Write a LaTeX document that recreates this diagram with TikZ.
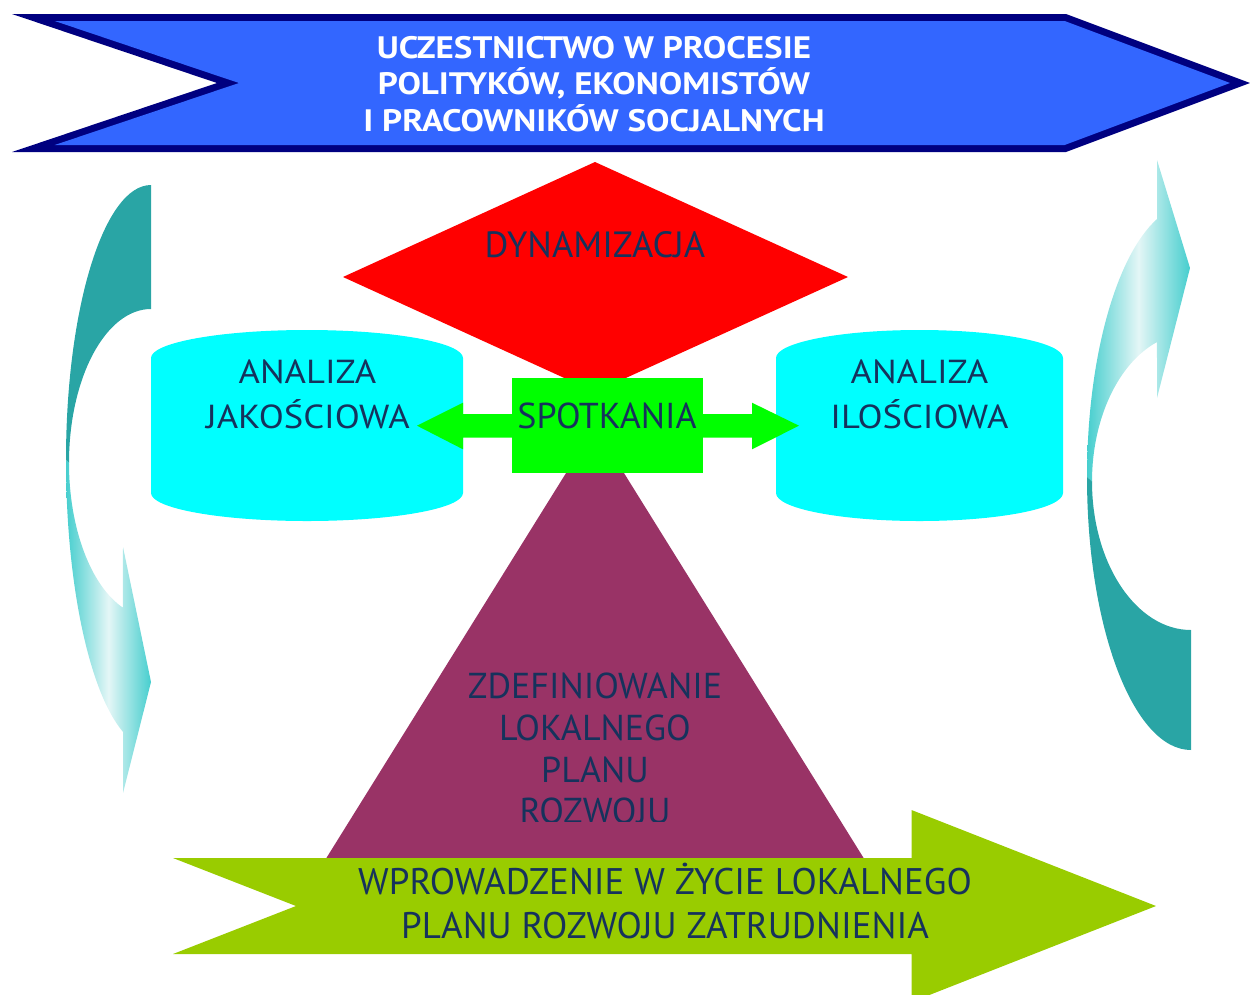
\documentclass[tikz,border=0pt]{standalone}
\usepackage{fontspec}
\setmainfont{PT Sans}
\newfontfamily\wideS[FakeStretch=1.1]{PT Sans}
\newfontfamily\wideB[FakeStretch=1.13]{PT Sans}
\definecolor{navyb}{RGB}{0,0,128}
\definecolor{blueF}{RGB}{51,102,255}
\definecolor{txt}{RGB}{22,50,92}
\definecolor{cyanF}{RGB}{0,255,255}
\definecolor{greenF}{RGB}{0,255,0}
\definecolor{redF}{RGB}{255,0,0}
\definecolor{maroon}{RGB}{153,51,102}
\definecolor{limeF}{RGB}{153,204,0}
\definecolor{tealD}{RGB}{41,165,165}
\definecolor{tealM}{RGB}{70,206,206}
\definecolor{tealL}{RGB}{228,246,246}
\begin{document}
\begin{tikzpicture}[x=1pt,y=-1pt,
  lbl/.style={text=txt,anchor=base,inner sep=0pt,font=\fontsize{#1}{#1}\selectfont},
  cyl/.style={text=txt,anchor=base,inner sep=0pt,font=\wideS\fontsize{33.3}{34}\selectfont},
  toplbl/.style={text=white,anchor=base,inner sep=0pt,font=\wideB\fontsize{31}{31}\selectfont\bfseries},
  darkpart/.style={fill=tealD},
  lightpart/.style={left color=tealM,right color=tealM,middle color=tealL}]
\useasboundingbox (0,0) rectangle (1250,994);
\clip (0,0) rectangle (1250,994);
% top chevron
\fill[navyb] (12,14) -- (1066,14) -- (1250,83) -- (1066,152) -- (12,152) -- (217,83) -- cycle;
\fill[blueF] (54.7,21) -- (1064.7,21) -- (1230,83) -- (1064.7,145) -- (54.7,145) -- (239,83) -- cycle;
\node[toplbl] (t1) at (594,58) {UCZESTNICTWO W PROCESIE};
\node[toplbl] (t2) at (594,94.5) {POLITYKÓW, EKONOMISTÓW};
\node[toplbl] (t3) at (594,131) {I PRACOWNIKÓW SOCJALNYCH};
% left curved arrow
\path[darkpart] (151,185) arc[start angle=-90,end angle=-180,x radius=85,y radius=275]
  -- (69,463) arc[start angle=180,end angle=270,x radius=82,y radius=154] -- cycle;
\path[lightpart] (66,460) arc[start angle=180,end angle=109.2,x radius=85,y radius=288]
  -- (123,793) -- (151,682) -- (123,547) -- (122.95,607.7)
  arc[start angle=110,end angle=180,x radius=82,y radius=154] -- cycle;
% right curved arrow
\path[lightpart] (1157,219) arc[start angle=250.9,end angle=180,x radius=104,y radius=273]
  -- (1092,481.5) arc[start angle=180,end angle=249.9,x radius=99,y radius=148.5]
  -- (1157,398) -- (1190,268) -- (1157,160) -- cycle;
\path[darkpart] (1087,477) arc[start angle=180,end angle=90,x radius=104,y radius=273]
  -- (1191,630) arc[start angle=90,end angle=180,x radius=99,y radius=148.5] -- cycle;
% diamond
\fill[redF] (595,162) -- (848,277) -- (595,392) -- (343,277) -- cycle;
\node[lbl=36.5] (dyn) at (595,257.5) {DYNAMIZACJA};
% cylinders
\fill[cyanF] (151,358) arc[start angle=180,end angle=360,x radius=156,y radius=28]
  -- (463,493) arc[start angle=0,end angle=180,x radius=156,y radius=28] -- cycle;
\fill[cyanF] (776,358) arc[start angle=180,end angle=360,x radius=143.5,y radius=28]
  -- (1063,493) arc[start angle=0,end angle=180,x radius=143.5,y radius=28] -- cycle;
\node[cyl] (aj1) at (307.5,383.3) {ANALIZA};
\node[cyl] (aj2) at (308,428.3) {JAKOŚCIOWA};
\node[cyl] (ai1) at (919.5,383.3) {ANALIZA};
\node[cyl] (ai2) at (919.5,428.3) {ILOŚCIOWA};
% triangle
\fill[maroon] (595,426.5) -- (896,910) -- (294,910) -- cycle;
\begin{scope}
\clip (300,600) rectangle (900,821);
\node[lbl=36] (z1) at (595,698.5) {ZDEFINIOWANIE};
\node[lbl=36] (z2) at (595,740.5) {LOKALNEGO};
\node[lbl=36] (z3) at (595,782.5) {PLANU};
\node[lbl=36] (z4) at (595,823.5) {ROZWOJU};
\end{scope}
% double arrow
\fill[greenF] (417,425.7) -- (463,402.7) -- (463,414) -- (752,414) -- (752,402.7)
  -- (799,425.7) -- (752,449.3) -- (752,437.7) -- (463,437.7) -- (463,449.3) -- cycle;
\fill[greenF] (511.7,378) rectangle (703.3,473.3);
\node[lbl=36] (spot) at (607,428.3) {SPOTKANIA};
% bottom arrow
\fill[limeF] (173,858) -- (911.5,858) -- (911.5,810) -- (1156,906) -- (911.5,1002)
  -- (911.5,954) -- (173,954) -- (296,906) -- cycle;
\node[lbl=37] (b1) at (665,894) {WPROWADZENIE W ŻYCIE LOKALNEGO};
\node[lbl=37] (b2) at (665,938) {PLANU ROZWOJU ZATRUDNIENIA};
\end{tikzpicture}
\end{document}
